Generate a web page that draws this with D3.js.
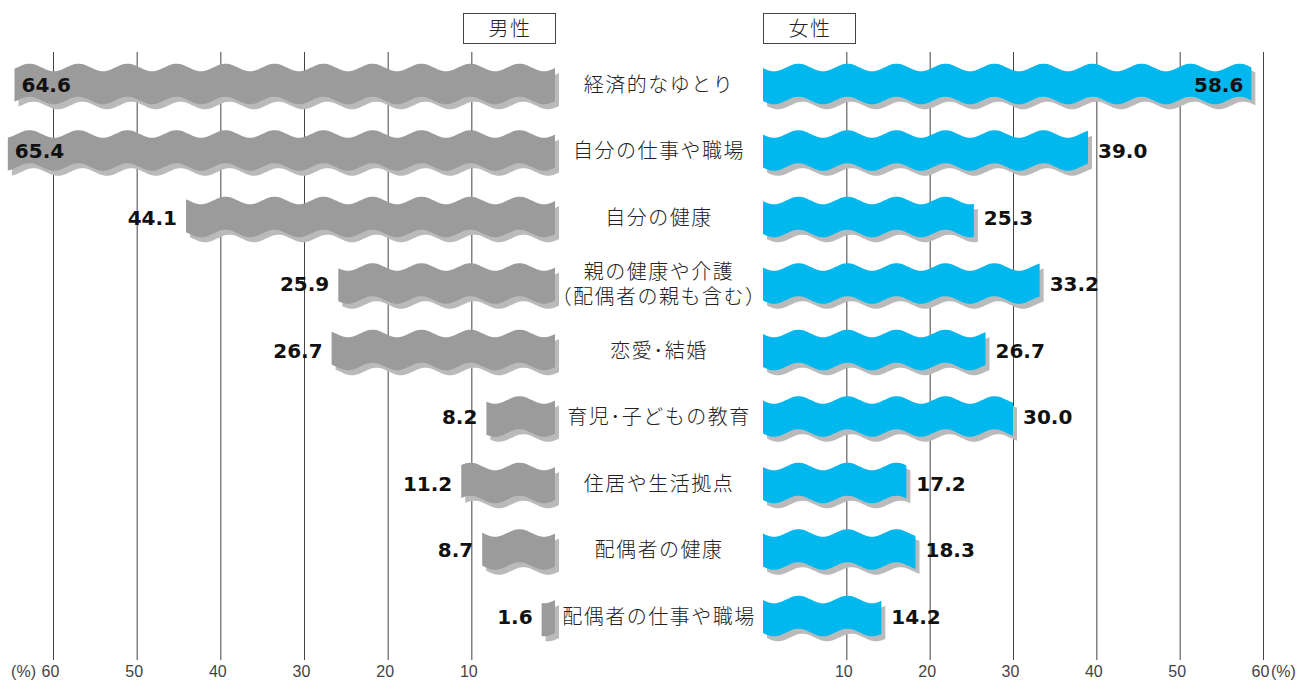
<!DOCTYPE html>
<html>
<head>
<meta charset="utf-8">
<script src="https://cdn.jsdelivr.net/npm/d3@7"></script>
<style>
  html, body { margin: 0; padding: 0; background: #fff; }
  svg { display: block; }
</style>
</head>
<body>
<svg id="chart" width="1312" height="681"></svg>
<script>
// Categories (top to bottom) and percentages for each group
const categories = [
  ["経済的なゆとり"],
  ["自分の仕事や職場"],
  ["自分の健康"],
  ["親の健康や介護", "（配偶者の親も含む）"],
  ["恋愛･結婚"],
  ["育児･子どもの教育"],
  ["住居や生活拠点"],
  ["配偶者の健康"],
  ["配偶者の仕事や職場"]
];
const maleValues   = [64.6, 65.4, 44.1, 25.9, 26.7, 8.2, 11.2, 8.7, 1.6];
const femaleValues = [58.6, 39.0, 25.3, 33.2, 26.7, 30.0, 17.2, 18.3, 14.2];
const tickValues = [10, 20, 30, 40, 50, 60];
const groupLabels = ["男性", "女性"];

const svg = d3.select("#chart");

const jpFont = "'Noto Sans CJK JP', 'Noto Sans', sans-serif";
const numFont = "'DejaVu Sans', 'Liberation Sans', sans-serif";
const axisFont = "'Liberation Sans', Arial, sans-serif";

// Mirrored scales: men grow leftwards from the centre, women rightwards
const xMale = d3.scaleLinear().domain([0, 60]).range([555, 53]);
const xFemale = d3.scaleLinear().domain([0, 60]).range([763, 1263]);
const y = d3.scaleBand()
  .domain(d3.range(categories.length))
  .range([50.75, 50.75 + 66.5 * categories.length]);
const rowCenter = i => y(i) + y.bandwidth() / 2;

const gridTop = 52, gridBottom = 660;

// Axes with full-height tick lines acting as gridlines
function drawAxis(scale, unitSide) {
  const g = svg.append("g")
    .attr("transform", `translate(0,${gridBottom})`)
    .call(d3.axisBottom(scale)
      .tickValues(tickValues)
      .tickSize(-(gridBottom - gridTop))
      .tickPadding(5.5)
      .tickFormat(d3.format("d")));
  g.select(".domain").remove();
  g.selectAll(".tick line").attr("stroke", "#444").attr("stroke-width", 1);
  g.selectAll(".tick text")
    .attr("dx", -3)
    .attr("fill", "#444")
    .style("font-family", axisFont)
    .style("font-size", "16px");
  const x60 = scale(60);
  svg.append("text")
    .attr("x", unitSide < 0 ? x60 - 17 : x60 + 8)
    .attr("y", gridBottom + 5.5)
    .attr("dy", "0.71em")
    .attr("text-anchor", unitSide < 0 ? "end" : "start")
    .attr("fill", "#444")
    .style("font-family", axisFont)
    .style("font-size", "16px")
    .text("(%)");
}
drawAxis(xMale, -1);
drawAxis(xFemale, 1);

// Wavy ribbon path from the baseline out to the value
const barH = 33, amp = 3.8, period = 49, peakAt = 35.5;
function ribbon(scale, value, cy) {
  const x0 = scale(0), x1 = scale(value);
  const sign = x1 >= x0 ? 1 : -1;
  const len = Math.abs(x1 - x0);
  const ds = d3.range(0, len, 1).concat([len]);
  const off = d => -amp * Math.cos(2 * Math.PI * (d - peakAt) / period);
  const top = ds.map(d => [x0 + sign * d, cy - barH / 2 + off(d)]);
  const bottom = ds.slice().reverse().map(d => [x0 + sign * d, cy + barH / 2 + off(d)]);
  return d3.line()(top.concat(bottom)) + "Z";
}

function drawSeries(scale, values, color) {
  const g = svg.append("g");
  values.forEach((v, i) => {
    const cy = rowCenter(i);
    g.append("path")
      .attr("d", ribbon(scale, v, cy))
      .attr("transform", "translate(4,5)")
      .attr("fill", "#bababa");
    g.append("path")
      .attr("d", ribbon(scale, v, cy))
      .attr("fill", color);
  });
}
drawSeries(xMale, maleValues, "#9b9b9b");
drawSeries(xFemale, femaleValues, "#00b7ee");

// Value labels: outside the bar end, or inside when the bar is long
const valueStyle = sel => sel
  .attr("fill", "#111")
  .style("font-family", numFont)
  .style("font-weight", "bold")
  .style("font-size", "20px");

maleValues.forEach((v, i) => {
  const xe = xMale(v);
  const inside = v > 60;
  svg.append("text")
    .attr("x", inside ? xe + 7 : xe - 9)
    .attr("y", rowCenter(i) + 7.5)
    .attr("text-anchor", inside ? "start" : "end")
    .call(valueStyle)
    .text(v.toFixed(1));
});
femaleValues.forEach((v, i) => {
  const xe = xFemale(v);
  const inside = v > 55;
  svg.append("text")
    .attr("x", inside ? xe - 8 : xe + 10)
    .attr("y", rowCenter(i) + 7.5)
    .attr("text-anchor", inside ? "end" : "start")
    .call(valueStyle)
    .text(v.toFixed(1));
});

// Category labels in the centre column
const midX = (xMale(0) + xFemale(0)) / 2;
categories.forEach((lines, i) => {
  const cy = rowCenter(i);
  const lh = 25;
  lines.forEach((s, k) => {
    svg.append("text")
      .attr("text-anchor", "middle")
      .attr("fill", "#222")
      .style("font-family", jpFont)
      .style("font-weight", 300)
      .style("font-size", "20px")
      .style("letter-spacing", "1.5px")
      .attr("x", midX)
      .attr("y", cy + 7.5 + (k - (lines.length - 1) / 2) * lh)
      .text(s);
  });
});

// Group headers
const headers = [
  { label: groupLabels[0], x0: 463, x1: 555 },
  { label: groupLabels[1], x0: 763, x1: 855 }
];
headers.forEach(h => {
  svg.append("rect")
    .attr("x", h.x0 + 0.5).attr("y", 13.5)
    .attr("width", h.x1 - h.x0).attr("height", 30)
    .attr("fill", "#fff")
    .attr("stroke", "#444");
  svg.append("text")
    .attr("x", (h.x0 + h.x1) / 2 + 1)
    .attr("y", 35.5)
    .attr("text-anchor", "middle")
    .attr("fill", "#222")
    .style("font-family", jpFont)
    .style("font-weight", 300)
    .style("font-size", "20px")
    .style("letter-spacing", "1.5px")
    .text(h.label);
});
</script>
</body>
</html>
